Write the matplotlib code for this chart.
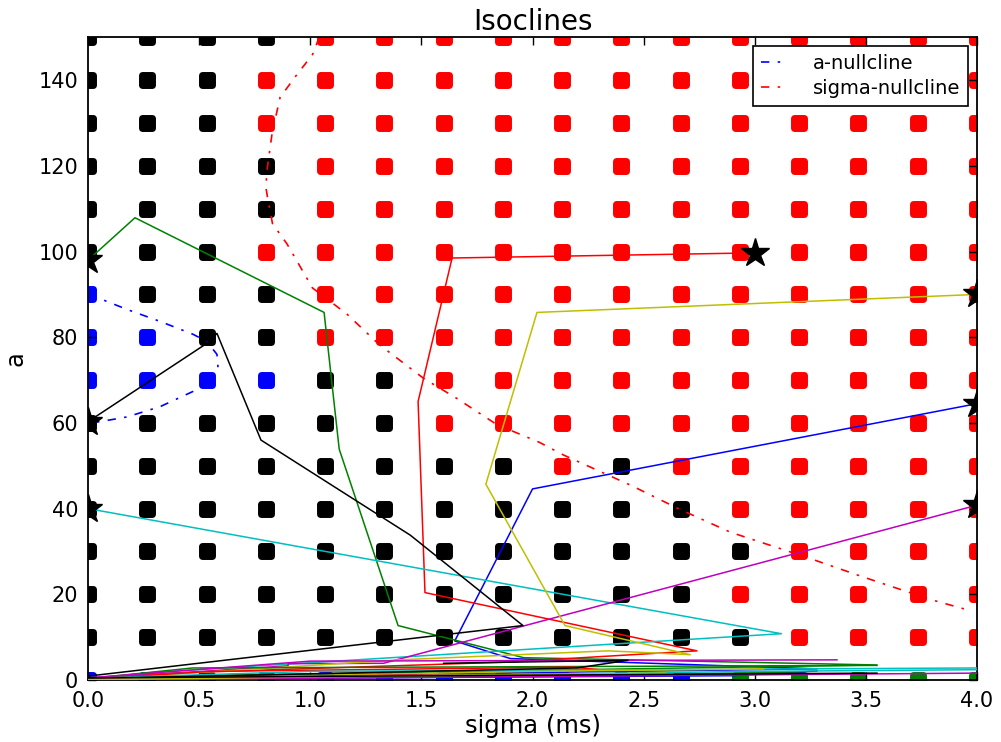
import numpy as np
import matplotlib
matplotlib.use("Agg")
import matplotlib.pyplot as plt
from matplotlib.markers import MarkerStyle

# grid of sample points, colour of each point (row 0 is a=0, last row a=150)
grid_sigma = np.linspace(0.0, 4.0, 16)
grid_a = np.linspace(0.0, 150.0, 16)
grid_colors = [
    "bbbbbbbbbbbggggg",
    "kkkkkkkkkkkkrrrr",
    "kkkkkkkkkkkrrrrr",
    "kkkkkkkkkkkkrrrr",
    "kkkkkkkkkkkrrrrr",
    "kkkkkkkkrkrrrrrr",
    "kkkkkkrrrrrrrrrr",
    "bbbbkkrrrrrrrrrr",
    "bbkkrrrrrrrrrrrr",
    "bkkkrrrrrrrrrrrr",
    "kkkrrrrrrrrrrrrr",
    "kkkkrrrrrrrrrrrr",
    "kkkkrrrrrrrrrrrr",
    "kkkrrrrrrrrrrrrr",
    "kkkrrrrrrrrrrrrr",
    "kkkkrrrrrrrrrrrr",
]

# nullclines
a_null_x = [0.0, 0.054, 0.175, 0.324, 0.472, 0.535, 0.58, 0.585, 0.56, 0.47, 0.324, 0.175, 0.054, 0.0]
a_null_y = [89.6, 89.0, 86.5, 83.7, 80.7, 79.0, 76.0, 72.7, 70.4, 67.3, 63.8, 61.4, 60.3, 60.0]
sig_null_x = [1.04, 1.01, 0.935, 0.864, 0.828, 0.805, 0.80, 0.81, 0.83, 0.895, 1.01, 1.165, 1.31,
              1.51, 1.66, 1.84, 2.03, 2.14, 2.44, 2.66, 2.89, 3.23, 3.49, 3.79, 3.955]
sig_null_y = [150, 146, 141, 136, 127.6, 118.9, 115, 111.9, 106.5, 101.8, 91.5, 85.4, 78.3,
              70.4, 65.7, 59.6, 55.5, 52.5, 45.5, 39.9, 34.5, 28.7, 24.0, 18.8, 16.4]

# trajectories (colour cycle b g r c m y k)
traj_x = [
    [0.0, 3.28, 1.9, 1.65, 2.0, 4.0],
    [0.0, 3.55, 1.96, 1.395, 1.13, 1.062, 0.211, 0.0],
    [0.0, 0.37, 1.9, 2.74, 1.516, 1.485, 1.638, 3.0],
    [0.0, 0.3, 3.12, 0.0],
    [0.0, 0.9, 0.9, 1.33, 4.0],
    [0.0, 1.4, 2.34, 2.71, 2.146, 1.79, 2.02, 4.0],
    [0.0, 1.957, 1.45, 0.778, 0.58, 0.535, 0.0],
    [0.0, 2.9, 3.28],
    [0.0, 0.47, 3.55],
    [0.0, 0.55, 2.18, 2.3],
    [0.0, 1.0, 4.0],
    [0.0, 1.0, 3.37],
    [0.0, 2.0, 3.04],
    [0.0, 2.2, 2.43, 1.6],
    [0.0, 0.4, 1.0],
    [0.0, 2.6, 3.2],
    [0.0, 1.2, 2.2],
    [0.0, 3.0, 4.0],
    [0.0, 4.0],
    [0.0, 1.5, 2.6],
    [0.0, 3.55],
]
traj_y = [
    [0.4, 2.6, 5.0, 9.1, 44.6, 64.5],
    [0.6, 3.5, 5.2, 12.7, 53.9, 85.8, 107.9, 98.0],
    [0.3, 1.6, 4.2, 6.8, 20.4, 65.0, 98.5, 99.7],
    [0.2, 1.8, 10.8, 40.0],
    [0.3, 3.3, 3.8, 3.9, 40.8],
    [0.1, 4.7, 6.8, 5.9, 12.7, 45.7, 85.8, 90.0],
    [0.9, 12.7, 33.8, 56.0, 80.9, 78.6, 60.3],
    [0.1, 1.0, 2.1],
    [0.3, 2.8, 3.4],
    [0.2, 2.0, 3.0, 2.4],
    [0.4, 2.0, 2.8],
    [0.5, 4.4, 4.7],
    [0.1, 2.0, 2.6],
    [0.3, 2.8, 4.6, 3.9],
    [0.0, 0.3, 0.6],
    [0.2, 1.3, 1.9],
    [0.1, 1.0, 1.5],
    [0.0, 2.0, 2.4],
    [0.0, 1.6],
    [0.05, 1.0, 1.6],
    [0.5, 1.6],
]
cycle = ["b", "g", "r", "c", "m", "y", "k"]

# end points marked with stars
star_x = [0.0, 0.0, 0.0, 3.0, 4.0, 4.0, 4.0]
star_y = [98.0, 60.3, 40.0, 99.7, 90.0, 64.5, 40.8]

fig = plt.figure(figsize=(10.01, 7.42), dpi=100)
ax = fig.add_axes([0.088, 0.0836, 0.888, 0.866])

dot = MarkerStyle("s", joinstyle="round")
for i, a in enumerate(grid_a):
    for j, s in enumerate(grid_sigma):
        ax.plot(s, a, linestyle="none", marker=dot, markersize=6.5, markeredgewidth=5,
                color=grid_colors[i][j], zorder=1)

dashdot = (5, 5, 1.5, 5)
ax.plot(a_null_x, a_null_y, color="b", linestyle="-.", dashes=dashdot, lw=1.2,
        label="a-nullcline", zorder=2)
ax.plot(sig_null_x, sig_null_y, color="r", linestyle="-.", dashes=dashdot, lw=1.2,
        label="sigma-nullcline", zorder=2)

for k in range(len(traj_x)):
    ax.plot(traj_x[k], traj_y[k], color=cycle[k % 7], lw=1.1, zorder=3)

ax.plot(star_x, star_y, linestyle="none", marker="*", markersize=21, color="k", zorder=4)

ax.set_xlim(0, 4)
ax.set_ylim(0, 150)
ax.set_xticks(np.arange(0, 4.01, 0.5))
ax.set_yticks(np.arange(0, 141, 20))
ax.tick_params(direction="in", top=True, right=True, length=6, width=1, labelsize=15)
ax.tick_params(axis="x", pad=8)
ax.tick_params(axis="y", pad=7)
for sp in ax.spines.values():
    sp.set_linewidth(1.3)

ax.set_xlabel("sigma (ms)", fontsize=17.5, labelpad=2)
ax.set_ylabel("a", fontsize=17.5, labelpad=8)
ax.set_title("Isoclines", fontsize=20, pad=5)

leg = ax.legend(loc="upper right", fontsize=14, fancybox=False, framealpha=1,
                edgecolor="k", handlelength=1.1, handletextpad=1.6, borderaxespad=0.45,
                borderpad=0.4, labelspacing=0.3)
leg.get_frame().set_linewidth(1.2)

fig.savefig("out.png", dpi=100)
